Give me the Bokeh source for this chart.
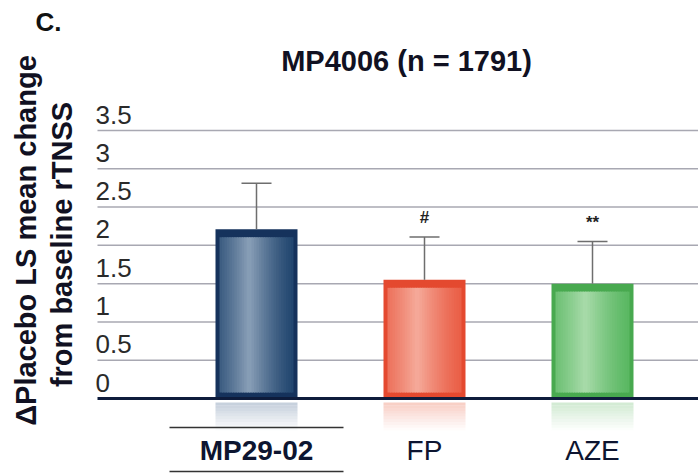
import numpy as np
from bokeh.plotting import figure
from bokeh.models import Range1d
from bokeh.core.properties import value
from bokeh.embed import file_html
from bokeh.resources import INLINE

# ---------------- data ----------------
categories = ["MP29-02", "FP", "AZE"]
means = [2.21, 1.55, 1.50]
err_upper = [0.60, 0.56, 0.55]
significance = ["", "#", "**"]
y_ticks = [0, 0.5, 1, 1.5, 2, 2.5, 3, 3.5]
y_tick_labels = ["0", "0.5", "1", "1.5", "2", "2.5", "3", "3.5"]
title_text = "MP4006 (n = 1791)"
ylabel_lines = ["\u0394Placebo LS mean change", "from baseline rTNSS"]
panel_tag = "C."

# ---------------- style ----------------
border_cols = ["#15325c", "#e4492f", "#48a94f"]
edge_cols = ["#22466f", "#ea5f47", "#5ab862"]
light_cols = ["#8aa0b8", "#f5ab9b", "#a9dbab"]
refl_cols = ["#b4c1d1", "#f6c0b3", "#c4e4c5"]
label_styles = ["bold", "normal", "normal"]

W, H = 698, 473
X0, SX = 256.0, 168.0      # px of category 1, px per category
Y0, SY = 398.0, 76.57      # px of value 0, px per unit


def dx(px):
    return 1 + (px - X0) / SX


def dy(py):
    return (Y0 - py) / SY


p = figure(width=W, height=H, output_backend="svg", toolbar_location=None,
           x_range=Range1d(dx(0), dx(W)), y_range=Range1d(dy(H), dy(0)),
           x_axis_location=None, y_axis_location=None, min_border=0,
           outline_line_color=None, background_fill_color="white",
           border_fill_color="white")
p.grid.visible = False

xs = np.arange(1, len(categories) + 1, dtype=float)
bar_w = 82 / SX
FONT = value("Liberation Sans")

# gridlines
x_left, x_right = dx(97), dx(W)
p.segment(x0=[x_left] * (len(y_ticks) - 1), x1=[x_right] * (len(y_ticks) - 1),
          y0=y_ticks[1:], y1=y_ticks[1:], line_color="#a8a8b2", line_width=1.5)

# tick labels (sitting just above their gridlines, left aligned)
p.text(x=[dx(95)] * len(y_ticks), y=y_ticks, text=y_tick_labels,
       text_font=FONT, text_font_size="26px", text_color="#2a2a2a",
       text_align="left", text_baseline="middle", y_offset=-16)


def hexrgb(h):
    h = h.lstrip("#")
    return np.array([int(h[i:i + 2], 16) for i in (0, 2, 4)], dtype=float)


def rgbhex(c):
    c = np.clip(np.round(c), 0, 255).astype(int)
    return "#%02x%02x%02x" % tuple(c)


# bars with a horizontal shading
N = 30
for i, (c, v) in enumerate(zip(xs, means)):
    p.quad(left=[c - bar_w / 2], right=[c + bar_w / 2], bottom=[0], top=[v],
           fill_color=border_cols[i], line_color=None)
    ins = 4 / SX
    l0, r0 = c - bar_w / 2 + ins, c + bar_w / 2 - ins
    edges = np.linspace(l0, r0, N + 1)
    t = (np.arange(N) + 0.5) / N
    f = np.clip(1 - np.abs(t - 0.4) / 0.6, 0, 1) ** 1.3
    e, lt = hexrgb(edge_cols[i]), hexrgb(light_cols[i])
    cols = [rgbhex(e + (lt - e) * k) for k in f]
    rights = np.minimum(edges[1:] + 1.2 / SX, r0)
    p.quad(left=edges[:-1], right=rights,
           bottom=[6 / SY] * N, top=[v - 8 / SY] * N,
           fill_color=cols, line_color=None)
    # reflection
    M = 10
    rb = np.linspace(-4 / SY, -32 / SY, M + 1)
    p.quad(left=[c - bar_w / 2] * M, right=[c + bar_w / 2] * M,
           top=rb[:-1], bottom=rb[1:],
           fill_color=refl_cols[i], fill_alpha=list(np.linspace(0.75, 0.05, M)),
           line_color=None)

# error bars (upper only)
tops = [m + e for m, e in zip(means, err_upper)]
cap = 30 / SX
p.segment(x0=xs, x1=xs, y0=means, y1=tops, line_color="#6e6e6e", line_width=1.5)
p.segment(x0=xs - cap / 2, x1=xs + cap / 2, y0=tops, y1=tops,
          line_color="#6e6e6e", line_width=1.5)

# significance marks
p.text(x=xs, y=tops, text=significance, text_font=FONT, text_font_size="17px",
       text_font_style="bold", text_color="#222222", text_align="center",
       text_baseline="middle", y_offset=-19)

# baseline
p.segment(x0=[x_left], x1=[x_right], y0=[0], y1=[0], line_color="#0e1c3c",
          line_width=3)

# category labels
for i, (c, lab) in enumerate(zip(xs, categories)):
    p.text(x=[c], y=[dy(450)], text=[lab], text_font=FONT, text_font_size="28px",
           text_font_style=label_styles[i], text_color="#0d1530",
           text_align="center", text_baseline="middle")
# rules around the product label
half = 87 / SX
p.segment(x0=[xs[0] - half] * 2, x1=[xs[0] + half] * 2, y0=[dy(427), dy(471)],
          y1=[dy(427), dy(471)], line_color="#333333", line_width=1.5)

# title
p.text(x=[dx(406)], y=[dy(60)], text=[title_text], text_font=FONT,
       text_font_size="29px", text_font_style="bold", text_color="#111122",
       text_align="center", text_baseline="middle")
# panel tag
p.text(x=[dx(35)], y=[dy(21)], text=[panel_tag], text_font=FONT,
       text_font_size="26px", text_font_style="bold", text_color="#111111",
       text_align="left", text_baseline="middle")
# y label (two rotated lines)
p.text(x=[dx(25), dx(61)], y=[dy(240), dy(244)], text=ylabel_lines,
       text_font=FONT, text_font_size="29px", text_font_style="bold",
       text_color="#111122", text_align="center", text_baseline="middle",
       angle=np.pi / 2)

open("out.html", "w").write(file_html(p, INLINE))
